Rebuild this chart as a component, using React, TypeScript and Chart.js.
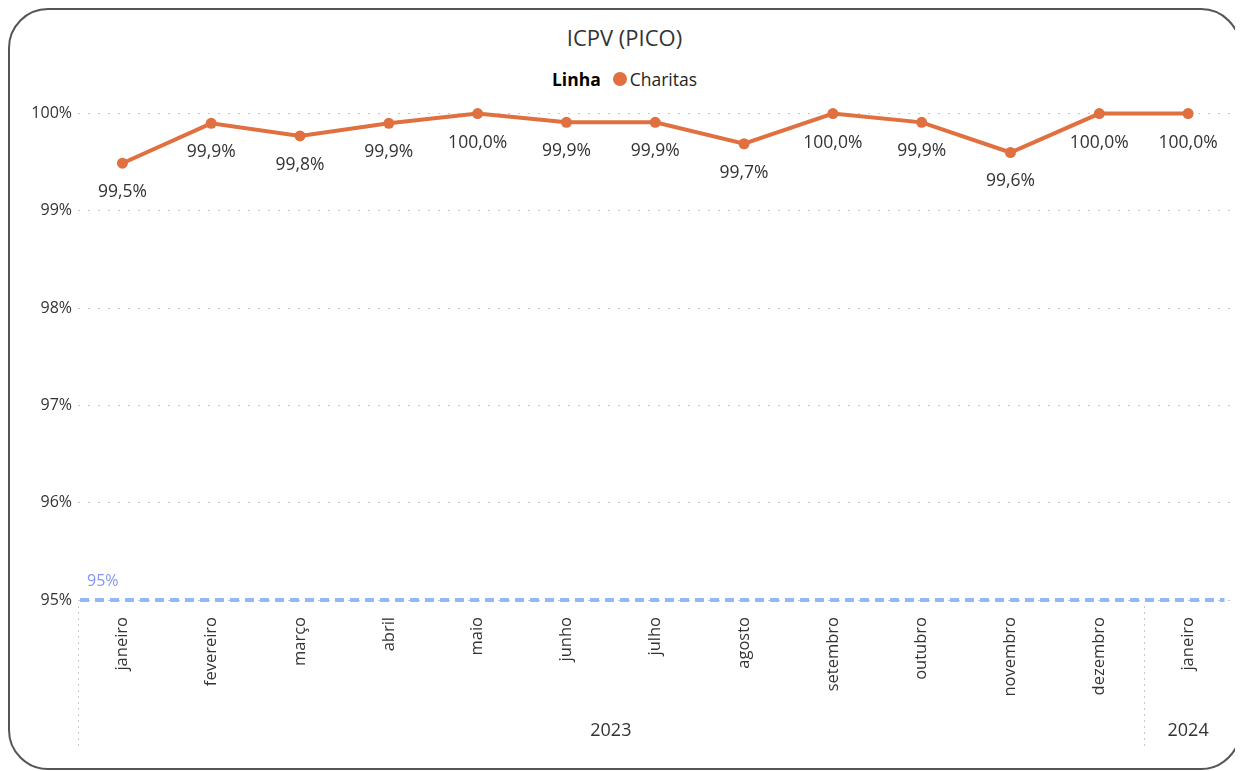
import React, { useEffect, useRef } from "react";
import { Chart, registerables } from "chart.js";

Chart.register(...registerables);

const months = [
  "janeiro", "fevereiro", "março", "abril", "maio", "junho", "julho",
  "agosto", "setembro", "outubro", "novembro", "dezembro", "janeiro",
];
const years = ["2023", "2024"];
const yearSpans = [12, 1];
const charitas = [99.49, 99.9, 99.77, 99.9, 100, 99.91, 99.91, 99.69, 100, 99.91, 99.6, 100, 100];
const targetValue = 95;
const yTicks = [95, 96, 97, 98, 99, 100];

const FONT = '"Segoe UI", "Open Sans", sans-serif';
const ORANGE = "#E0703F";

const fmt = (v: number) => v.toFixed(1).replace(".", ",") + "%";

const overlayPlugin = {
  id: "overlay",
  beforeDatasetsDraw(chart: any) {
    const { ctx, chartArea, scales } = chart;
    const y = scales.y.getPixelForValue(targetValue);
    ctx.save();
    ctx.strokeStyle = "#94B8F5";
    ctx.lineWidth = 4;
    ctx.setLineDash([9, 6]);
    ctx.beginPath();
    ctx.moveTo(chartArea.left + 2, y);
    ctx.lineTo(chartArea.right - 8, y);
    ctx.stroke();
    ctx.setLineDash([]);
    ctx.fillStyle = "#8296F2";
    ctx.font = `16px ${FONT}`;
    ctx.textAlign = "left";
    ctx.textBaseline = "middle";
    ctx.fillText(targetValue + "%", chartArea.left + 9, y - 19);
    ctx.restore();
  },
  afterDatasetsDraw(chart: any) {
    const { ctx, scales, chartArea } = chart;
    const meta = chart.getDatasetMeta(0);
    ctx.save();
    ctx.fillStyle = "#333333";
    ctx.font = `17.5px ${FONT}`;
    ctx.textAlign = "center";
    ctx.textBaseline = "middle";
    meta.data.forEach((pt: any, i: number) => {
      ctx.fillText(fmt(charitas[i]), pt.x, pt.y + 29);
    });
    // hierarchy separators and year labels
    const x = scales.x;
    const yTop = chartArea.bottom + 6;
    const yBot = chartArea.bottom + 146;
    ctx.strokeStyle = "#c8c8c8";
    ctx.lineWidth = 1;
    ctx.setLineDash([2, 4]);
    ctx.font = `18px ${FONT}`;
    let start = 0;
    const half = (x.getPixelForValue(1) - x.getPixelForValue(0)) / 2;
    years.forEach((yr, k) => {
      const left = x.getPixelForValue(start) - half;
      const right = x.getPixelForValue(start + yearSpans[k] - 1) + half;
      ctx.beginPath();
      ctx.moveTo(Math.round(left) + 0.5, yTop);
      ctx.lineTo(Math.round(left) + 0.5, yBot);
      ctx.stroke();
      ctx.fillText(yr, (left + right) / 2, chartArea.bottom + 131);
      start += yearSpans[k];
    });
    ctx.restore();
  },
};

export default function App() {
  const ref = useRef<HTMLCanvasElement | null>(null);
  useEffect(() => {
    if (!ref.current) return;
    const chart = new Chart(ref.current, {
      type: "line",
      data: {
        labels: months,
        datasets: [
          {
            label: "Charitas",
            data: charitas,
            borderColor: ORANGE,
            backgroundColor: ORANGE,
            borderWidth: 4,
            pointRadius: 5.5,
            pointHoverRadius: 5.5,
            pointBorderWidth: 0,
            pointBackgroundColor: ORANGE,
            tension: 0,
            clip: false as any,
          },
        ],
      },
      options: {
        animation: false,
        responsive: false,
        maintainAspectRatio: false,
        layout: { padding: { top: 12, right: 4, left: 0, bottom: 0 } },
        plugins: { legend: { display: false }, title: { display: false }, tooltip: { enabled: false } },
        scales: {
          x: {
            type: "category",
            offset: true,
            grid: { display: false, drawTicks: false },
            border: { display: false },
            ticks: {
              maxRotation: 90,
              minRotation: 90,
              autoSkip: false,
              padding: 17,
              color: "#333333",
              font: { size: 16.5, family: FONT },
            },
            afterFit: (s: any) => { s.height = 160; },
          },
          y: {
            min: 95,
            max: 100,
            afterBuildTicks: (s: any) => { s.ticks = yTicks.map((v) => ({ value: v })); },
            grid: { color: "#c8c8c8", drawTicks: false, lineWidth: 1 },
            border: { display: false, dash: [2, 8] },
            ticks: {
              padding: 6,
              color: "#333333",
              font: { size: 16, family: FONT },
              callback: (v: any) => v + "%",
            },
            afterFit: (s: any) => { s.width = 68; },
          },
        },
      },
      plugins: [overlayPlugin],
    });
    return () => chart.destroy();
  }, []);

  return (
    <div
      style={{
        position: "relative",
        width: 1233,
        height: 762,
        border: "2px solid #555",
        borderRadius: 40,
        boxSizing: "border-box",
        fontFamily: FONT,
        background: "#fff",
      }}
    >
      <div
        style={{
          position: "absolute", top: 13, left: 0, width: "100%", textAlign: "center",
          fontSize: 22, lineHeight: "28px", color: "#333",
        }}
      >
        ICPV (PICO)
      </div>
      <div
        style={{
          position: "absolute", top: 57, left: 0, width: "100%", display: "flex",
          justifyContent: "center", alignItems: "center", fontSize: 17.5, lineHeight: "24px", color: "#252423",
        }}
      >
        <span style={{ fontWeight: 700, color: "#000", marginRight: 12 }}>Linha</span>
        <span style={{ width: 14, height: 14, borderRadius: "50%", background: ORANGE, display: "inline-block", marginRight: 3 }} />
        <span>Charitas</span>
      </div>
      <div style={{ position: "absolute", left: 0, top: 88, width: 1228, height: 662 }}>
        <canvas ref={ref} width={1228} height={662} style={{ width: 1228, height: 662 }} />
      </div>
    </div>
  );
}
